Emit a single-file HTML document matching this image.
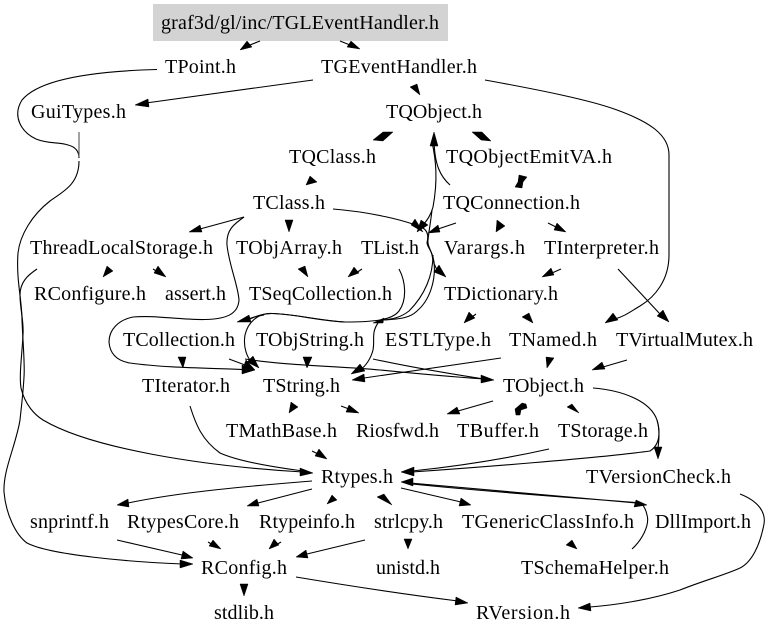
<!DOCTYPE html>
<html><head><meta charset="utf-8">
<style>
html,body{margin:0;padding:0;background:#fff}
svg{display:block}
text{font-family:"Liberation Serif","Times New Roman",serif;font-size:20px;fill:#000}
path{fill:none;stroke:#000;stroke-width:1.1}
polygon{fill:#000;stroke:#000;stroke-width:.5}
</style></head><body>
<svg width="768" height="637" viewBox="0 0 768 637" xmlns="http://www.w3.org/2000/svg">
<rect x="153" y="4" width="295" height="37" fill="#d3d3d3"/>
<g lengthAdjust="spacing">
<text x="161" y="29" textLength="278">graf3d/gl/inc/TGLEventHandler.h</text>
<text x="165" y="73" textLength="71">TPoint.h</text>
<text x="321" y="73" textLength="156">TGEventHandler.h</text>
<text x="31" y="118" textLength="95">GuiTypes.h</text>
<text x="386" y="118" textLength="96">TQObject.h</text>
<text x="289" y="163" textLength="87">TQClass.h</text>
<text x="446" y="163" textLength="166">TQObjectEmitVA.h</text>
<text x="253" y="209" textLength="72">TClass.h</text>
<text x="443" y="209" textLength="137">TQConnection.h</text>
<text x="30" y="254" textLength="183">ThreadLocalStorage.h</text>
<text x="236" y="254" textLength="106">TObjArray.h</text>
<text x="361" y="254" textLength="58">TList.h</text>
<text x="444" y="254" textLength="81">Varargs.h</text>
<text x="544" y="254" textLength="115">TInterpreter.h</text>
<text x="34" y="300" textLength="112">RConfigure.h</text>
<text x="165" y="300" textLength="61">assert.h</text>
<text x="249" y="300" textLength="143">TSeqCollection.h</text>
<text x="444" y="300" textLength="114">TDictionary.h</text>
<text x="123" y="346" textLength="112">TCollection.h</text>
<text x="256" y="346" textLength="108">TObjString.h</text>
<text x="385" y="346" textLength="106">ESTLType.h</text>
<text x="509" y="346" textLength="88">TNamed.h</text>
<text x="616" y="346" textLength="137">TVirtualMutex.h</text>
<text x="142" y="392" textLength="88">TIterator.h</text>
<text x="263" y="392" textLength="77">TString.h</text>
<text x="503" y="392" textLength="81">TObject.h</text>
<text x="226" y="437" textLength="111">TMathBase.h</text>
<text x="356" y="437" textLength="83">Riosfwd.h</text>
<text x="457" y="437" textLength="82">TBuffer.h</text>
<text x="558" y="437" textLength="90">TStorage.h</text>
<text x="321" y="483" textLength="72">Rtypes.h</text>
<text x="586" y="483" textLength="145">TVersionCheck.h</text>
<text x="30" y="528" textLength="79">snprintf.h</text>
<text x="127" y="528" textLength="112">RtypesCore.h</text>
<text x="259" y="528" textLength="96">Rtypeinfo.h</text>
<text x="374" y="528" textLength="69">strlcpy.h</text>
<text x="462" y="528" textLength="172">TGenericClassInfo.h</text>
<text x="655" y="528" textLength="96">DllImport.h</text>
<text x="521" y="574" textLength="148">TSchemaHelper.h</text>
<text x="376" y="574" textLength="64">unistd.h</text>
<text x="201" y="574" textLength="86">RConfig.h</text>
<text x="214" y="619" textLength="60">stdlib.h</text>
<text x="476" y="619" textLength="94">RVersion.h</text>
</g>

<!-- edges -->
<path d="M260,41 L250,45"/><polygon points="240,50 247,41 252,47"/>
<path d="M340,41 L350,45"/><polygon points="360,49 347,47 351,41"/>
<path d="M157,69.500 C100,71 40,78 22,100 C12,116 21,132 36,139 C48,144 60,142 68,145 C76,147 79,152 79,158"/>
<path d="M79,132 L79,157" stroke-width="1.300" style="stroke:#555"/>
<path d="M79,161 C79,185 62,192 50,201 C32,215 20,235 18,253 C16,280 22,300 22,320 C23,345 25,365 24,377 C23,395 21,410 20,420 C16,445 3,470 4,492 C6,515 16,535 27,543 C50,555 130,562 183,564"/>
<polygon points="193,564 180,560 180,568"/>
<path d="M37,269 C28,275 20,282 20,295 C20,310 24,320 23,335 C22,355 19,375 21,388 C25,405 35,415 43,420 C90,448 200,466 303,472"/>
<polygon points="313,473 300,468 300,476"/>
<path d="M313,80 L146,103"/><polygon points="135,105 148,99 149,107"/>
<polygon points="410,87 417,84 420,95"/>
<polygon points="373,140 383,132 393,132 383,141"/>
<polygon points="472,132 482,132 491,141 481,140"/>
<polygon points="306,185 310,176 317,182"/>
<polygon points="519,175 527,177 523,182 522,188 515,187 518,182"/>
<path d="M450,185 C440,176 435,165 434,142"/><polygon points="434,132 430,146 438,146"/>
<path d="M432,142 C436,160 438,180 433,207 C431,215 427,220 424,224"/><polygon points="417,232 421,220 428,225"/>
<path d="M333,209 C370,212 405,220 423,228 C429,232 428,238 427,243 C428,248 431,250 432,255 C433,262 435,267 438,271"/>
<polygon points="446,277 434,272 439,265"/><polygon points="423,232 411,225 415,219"/>
<path d="M456,223 L438,229"/><polygon points="428,233 438,225 440,232"/>
<path d="M432,210 C431,220 429,230 428,240 C427,247 433,252 434,262 C436,280 430,300 417,311 C410,318 400,319 385,320"/>
<path d="M433,255 C433,275 425,295 409,311 C400,318 392,319 384,320"/>
<path d="M399,269 C406,282 407,300 399,311 C392,320 375,322 345,322 C320,321 295,314 272,313.500 C266,313.500 258,315 250,319"/>
<path d="M264,315 C258,316 253,317 249,319"/>
<polygon points="237,322 249,315 251,322"/>
<polygon points="373,323 384,318 383,323"/>
<path d="M378,323 C371,333 375,340 373,350 C371,358 366,366 360,370"/><polygon points="351,374 360,364 365,371"/>
<path d="M345,322 C315,320 295,314 272,313.500 C258,313 248,322 245,335 C243,347 247,358 252,362"/>
<polygon points="259,368 247,362 253,356"/>
<path d="M244,217 C234,224 226,230 227,245 C229,265 238,285 239,300 C238,315 225,319 205,319.500 C180,320 155,315 133,317 C118,320 109,330 109,342 C110,355 118,361 130,363 C165,368 210,368 243,369.500"/>
<polygon points="255,370 242,365 242,374"/>
<path d="M244,217 L200,229"/><polygon points="189,232 200,225 202,232"/>
<polygon points="285,220 293,220 289,232"/>
<polygon points="103,277 107,266 113,271"/>
<path d="M153,269 L158,272"/><polygon points="166,277 154,273 158,266"/>
<polygon points="298,269 305,266 308,277"/>
<path d="M362,269 L356,273"/><polygon points="348,277 354,267 359,273"/>
<polygon points="178,357 186,357 183,368"/>
<path d="M229,359 L245,365"/><polygon points="255,370 243,368 246,360"/>
<polygon points="303,357 312,357 307,368"/>
<path d="M245,359 C290,366 340,366 380,370 C420,374 455,377 484,379"/>
<path d="M373,359 C410,367 445,373 484,379"/>
<polygon points="494,380 481,375 481,383"/>
<path d="M501,358 L364,378"/><polygon points="352,380 364,374 365,382"/>
<polygon points="546,357 554,358 547,368"/>
<path d="M627,360 L603,367"/><polygon points="592,370 602,362 605,369"/>
<path d="M493,401 L458,411"/><polygon points="447,414 457,407 460,414"/>
<polygon points="515,409 522,403 526,404 527,408 521,410 520,415 516,415"/>
<polygon points="567,407 572,404 579,413"/>
<path d="M593,388 C620,390 650,400 657,420 C660,430 659,440 658,448"/><polygon points="658,459 654,447 662,447"/>
<polygon points="289,413 291,402 298,407"/>
<path d="M341,406 L349,409"/><polygon points="359,413 346,412 349,405"/>
<path d="M190,406 C196,425 202,440 220,453 C240,462 280,468 303,471"/>
<path d="M312,451 L318,454"/><polygon points="327,459 315,456 319,449"/>
<path d="M549,449 C500,460 450,467 412,471"/>
<path d="M657,420 C660,430 661,444 650,451 C600,458 470,468 412,472"/><polygon points="401,472 414,467 414,476"/>
<path d="M312,481 C250,486 180,492 128,503"/><polygon points="117,505 128,499 129,507"/>
<path d="M312,489 L258,503"/><polygon points="247,506 257,499 259,506"/>
<polygon points="327,504 332,495 337,500"/>
<polygon points="377,497 384,494 392,505"/>
<path d="M401,488 L461,502"/><polygon points="471,505 459,506 461,498"/>
<path d="M410,483 L637,503 M412,484 C500,493 580,498 641,503" stroke-width="1.600"/>
<polygon points="401,482 413,478 413,486"/><polygon points="647,505 636,500 634,507"/>
<path d="M632,549 C642,540 650,525 647,515 C646,510 644,506 641,503"/>
<polygon points="566,545 572,540 577,549"/>
<polygon points="404,539 412,539 408,549"/>
<path d="M365,540 L307,554"/><polygon points="296,557 306,550 308,558"/>
<path d="M117,540 L182,555"/><polygon points="193,558 181,559 183,551"/>
<path d="M208,542 L213,545"/><polygon points="221,549 209,546 213,540"/>
<path d="M281,542 L276,545"/><polygon points="269,549 274,539 279,545"/>
<polygon points="240,584 248,584 244,596"/>
<path d="M296,577 C350,586 410,595 458,601"/><polygon points="468,603 455,605 456,597"/>
<path d="M740,494 C758,501 766,512 764,524 C760,545 752,562 740,568 C725,575 705,580 680,590 C650,600 615,605 590,607"/>
<polygon points="578,608 590,603 591,611"/>
<path d="M485,80 C540,90 590,100 617,110 C650,122 669,135 669,155 L669,255 C669,280 655,297 640,306 C630,312 625,316 615,319"/>
<polygon points="605,323 613,313 618,320"/>
<path d="M618,269 L660,314"/><polygon points="669,322 657,316 663,310"/>
<path d="M561,269 L552,273"/><polygon points="542,277 551,268 554,275"/>
<path d="M476,314 L472,317"/><polygon points="464,323 469,312 475,318"/>
<polygon points="522,317 529,313 533,323"/>
<polygon points="496,232 497,220 505,226"/>
<path d="M548,223 L556,227"/><polygon points="566,232 554,230 557,223"/>
</svg>
</body></html>
